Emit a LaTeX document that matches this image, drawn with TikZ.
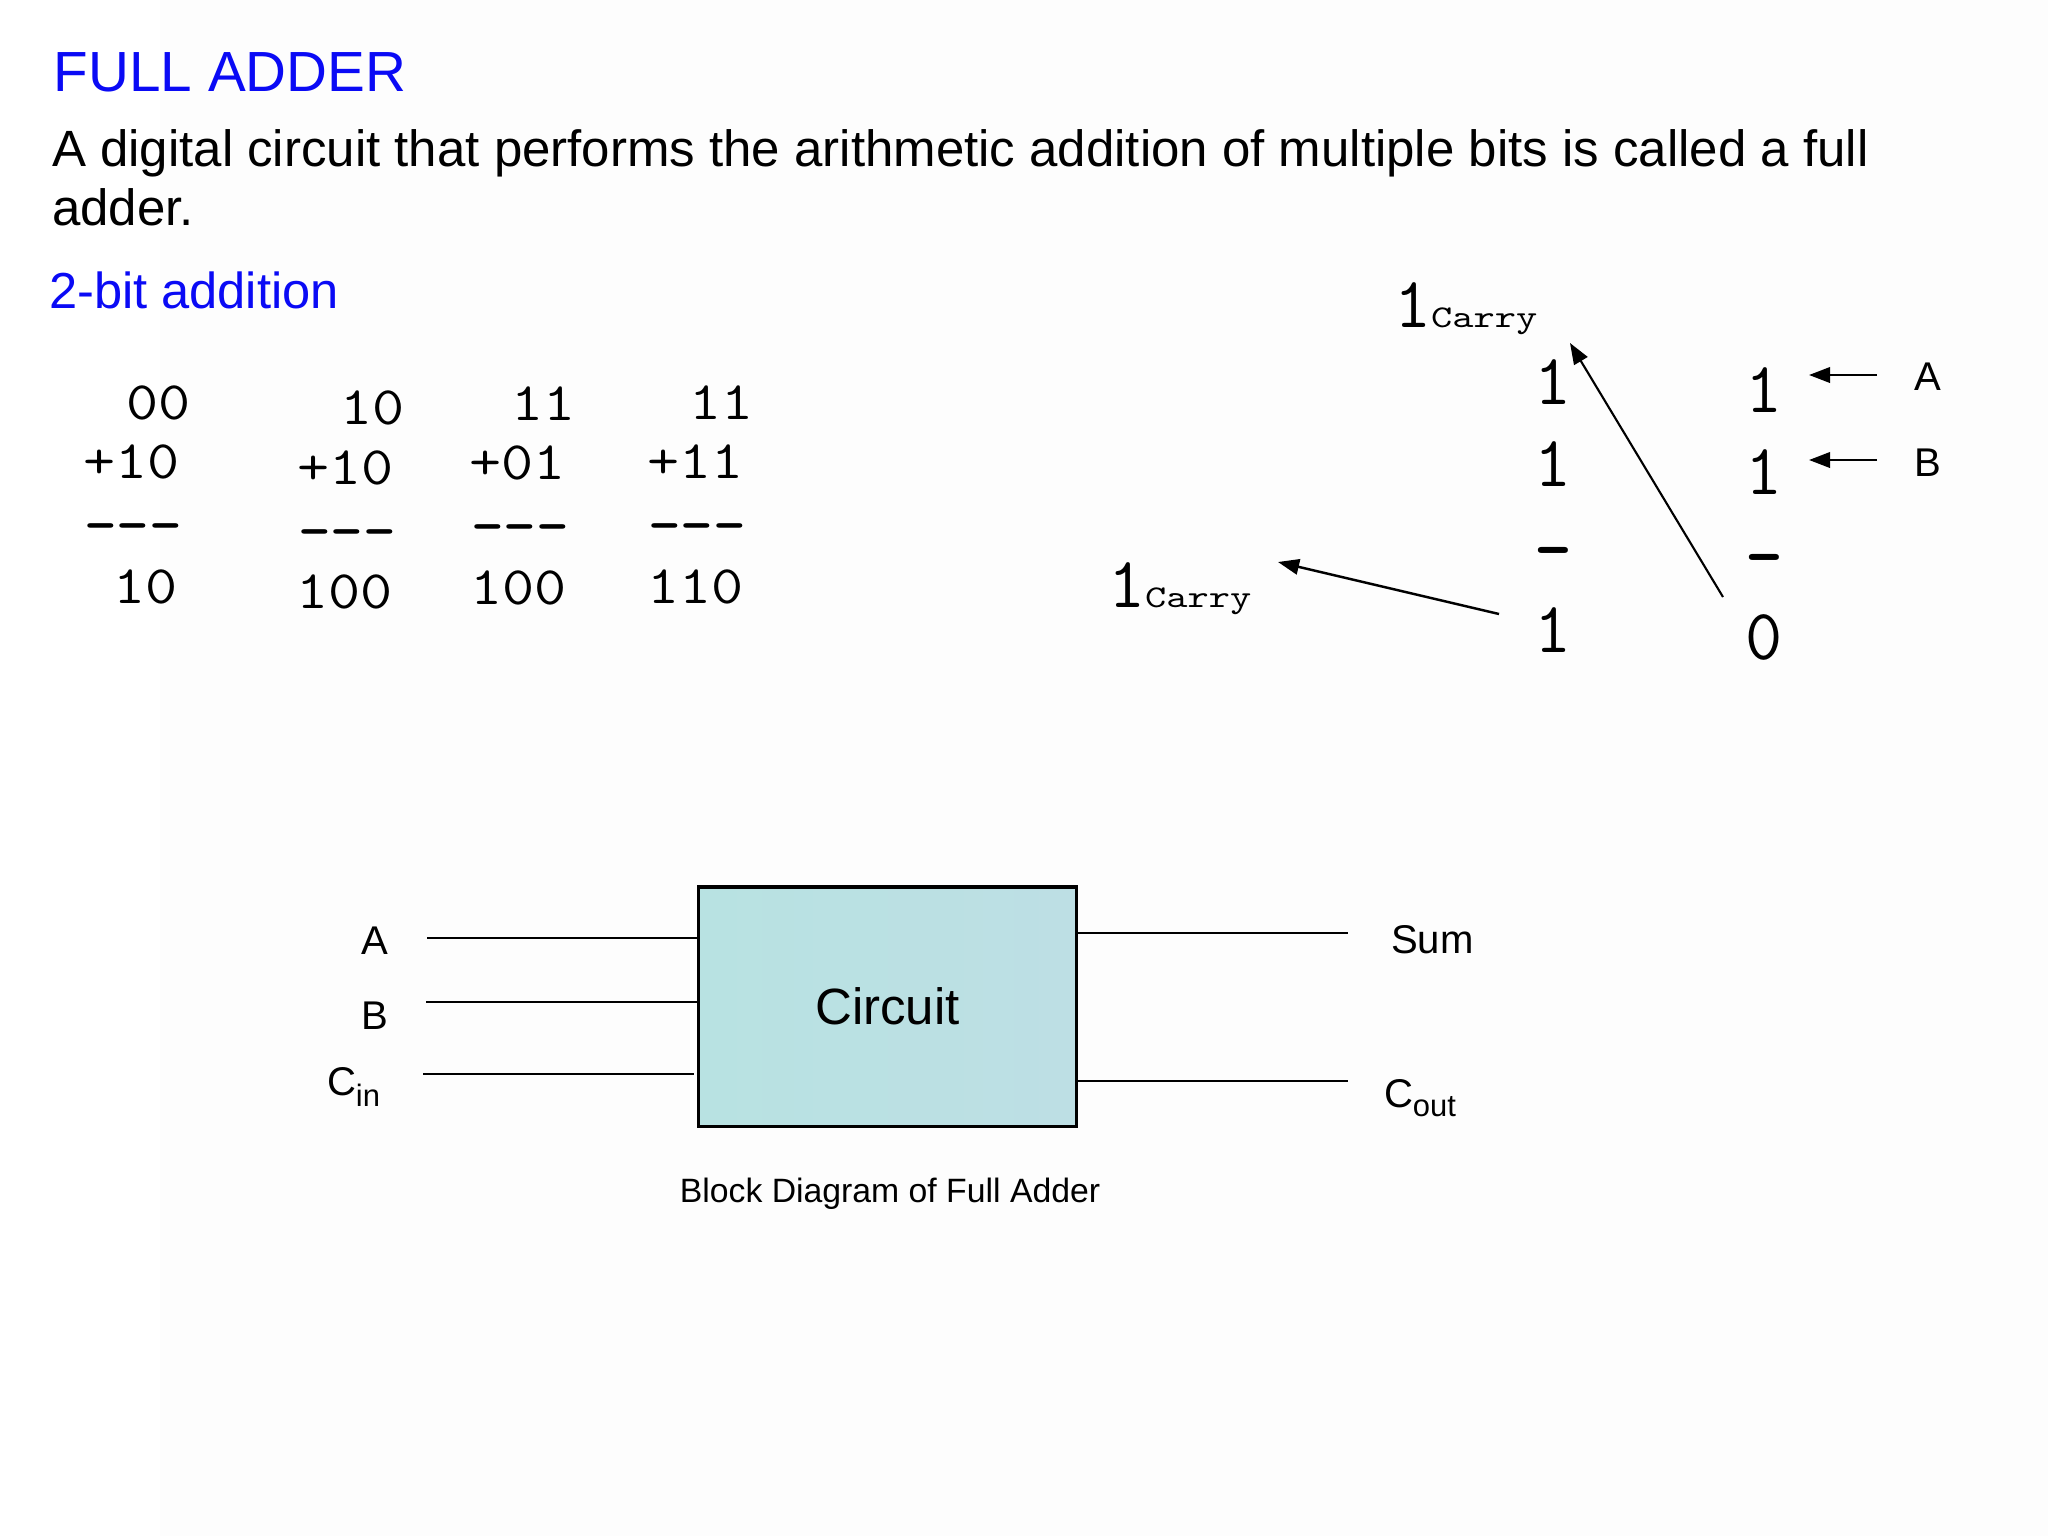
\documentclass[tikz,border=0pt]{standalone}
\usepackage{graphicx}
\usepackage{fontspec}
\setmainfont{Liberation Sans}
\usetikzlibrary{arrows.meta}
\definecolor{ttlblue}{RGB}{10,10,245}
\definecolor{boxL}{RGB}{184,226,226}
\definecolor{boxR}{RGB}{189,223,228}
\definecolor{bgc}{RGB}{253,253,253}
\newcommand\fsz[1]{\fontsize{#1}{#1}\selectfont}
\newcommand\dashes{{\bfseries-\kern0pt-\kern0pt-}}
\newcommand\sq[1]{\scalebox{1}[0.87]{#1}}
\newcommand\cry{\fsz{20.5pt}1\fsz{10pt}\scalebox{1.15}[0.9]{Carry}}
\tikzset{
  txt/.style={inner sep=0pt, outer sep=0pt, anchor=base west},
  ctxt/.style={inner sep=0pt, outer sep=0pt, anchor=base},
  sm/.style={txt, font=\ttfamily\fsz{17.7pt}},
  bg/.style={ctxt, font=\ttfamily\fsz{20.5pt}},
  lbl/.style={font=\fsz{11.4pt}},
  wire/.style={line width=0.8pt},
  arr/.style={-{Triangle[length=6pt,width=4.4pt]}, line width=0.6pt},
}
\begin{document}
\begin{tikzpicture}[x=0.01cm,y=-0.01cm]
\useasboundingbox (0,0) rectangle (2048,1536);
\fill[white] (0,0) rectangle (2048,1536);
\fill[bgc] (160,0) rectangle (2048,1536);

% headings
\node[txt, font=\fsz{16.1pt}, text=ttlblue] (title) at (54,91) {FULL ADDER};
\node[txt, font=\fsz{14.5pt}] (body1) at (52,166) {A digital circuit that performs the arithmetic addition of multiple bits is called a full};
\node[txt, font=\fsz{14.5pt}] (body2) at (52,225) {adder.};
\node[txt, font=\fsz{14.4pt}, text=ttlblue] (sub) at (49,308) {2-bit addition};

% 2-bit additions
\node[sm] (c1a) at (126,419) {\sq{00}};
\node[sm] (c1b) at (83,478) {\sq{+10}};
\node[sm] (c1c) at (84,542) {\sq{\dashes}};
\node[sm] (c1d) at (113,603) {\sq{10}};

\node[sm] (c2a) at (340,424) {\sq{10}};
\node[sm] (c2b) at (297,484) {\sq{+10}};
\node[sm] (c2c) at (298,548) {\sq{\dashes}};
\node[sm] (c2d) at (296,608) {\sq{100}};

\node[sm] (c3a) at (511,420) {\sq{11}};
\node[sm] (c3b) at (469,479) {\sq{+01}};
\node[sm] (c3c) at (471,543) {\sq{\dashes}};
\node[sm] (c3d) at (470,604) {\sq{100}};

\node[sm] (c4a) at (689,419) {\sq{11}};
\node[sm] (c4b) at (647,478) {\sq{+11}};
\node[sm] (c4c) at (648,542) {\sq{\dashes}};
\node[sm] (c4d) at (647,603) {\sq{110}};

% column addition with carries
\node[bg] (m1) at (1553,404) {1};
\node[bg] (m2) at (1553,486) {1};
\node[bg] (m3) at (1553,572) {\bfseries -};
\node[bg] (m4) at (1553,652) {1};

\node[bg] (r1) at (1764,412) {1};
\node[bg] (r2) at (1764,494) {1};
\node[bg] (r3) at (1764,579) {\bfseries -};
\node[bg] (r4) at (1764,659) {0};

\node[txt, font=\ttfamily] (cy1) at (1394,327) {\cry};
\node[txt, font=\ttfamily] (cy2) at (1108,607) {\cry};

\node[ctxt, lbl] (la) at (1928,390) {A};
\node[ctxt, lbl] (lb) at (1928,476) {B};

\coordinate (aS) at (1877,375);
\coordinate (aE) at (1809,375);
\coordinate (bS) at (1877,460);
\coordinate (bE) at (1809,460);
\coordinate (kS) at (1723,597);
\coordinate (kE) at (1570,343);
\coordinate (jS) at (1499,614);
\coordinate (jE) at (1278,562);
\draw[arr, line width=0.7pt] (aS) -- (aE);
\draw[arr, line width=0.7pt] (bS) -- (bE);
\draw[arr] (kS) -- (kE);
\draw[arr, line width=0.7pt] (jS) -- (jE);

% block diagram
\node[draw, line width=0.9pt, left color=boxL, right color=boxR,
      minimum width=3.77cm, minimum height=2.39cm, inner sep=0pt,
      font=\fsz{14.5pt}] (box) at (887.5,1006.5) {Circuit};

\coordinate (iA) at (427,938);
\coordinate (iB) at (426,1002);
\coordinate (iC) at (423,1074);
\coordinate (oS) at (1348,933);
\coordinate (oC) at (1348,1081);
\draw[wire] (iA) -- (iA -| box.west);
\draw[wire] (iB) -- (iB -| box.west);
\draw[wire] (iC) -- ([xshift=-0.03cm]iC -| box.west);
\draw[wire] (oS -| box.east) -- (oS);
\draw[wire] (oC -| box.east) -- (oC);

\node[ctxt, lbl] (lA) at (375,954) {A};
\node[ctxt, lbl] (lB) at (375,1029) {B};
\node[txt, lbl] (lC) at (327,1095) {C\raisebox{-3.4pt}{\fsz{8.8pt}in}};
\node[txt, lbl] (lS) at (1391,953) {Sum};
\node[txt, lbl] (lCo) at (1384,1107) {C\raisebox{-2.8pt}{\fsz{8.8pt}out}};

\node[ctxt, font=\fsz{9.6pt}] (cap) at (890,1202) {Block Diagram of Full Adder};
\end{tikzpicture}
\end{document}
